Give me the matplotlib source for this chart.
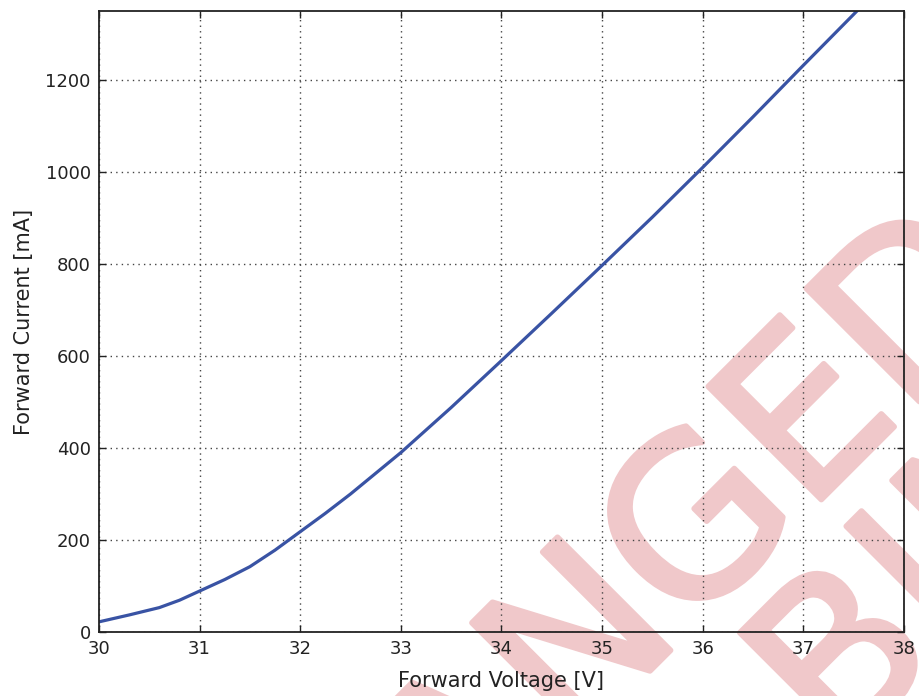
import matplotlib
matplotlib.use("Agg")
import matplotlib.pyplot as plt
import matplotlib.patheffects as pe

# forward voltage [V] vs forward current [mA]
voltage = [30.0, 30.3, 30.6, 30.8, 31.0, 31.25, 31.5, 31.75, 32.0, 32.25,
           32.5, 33.0, 33.5, 34.0, 34.5, 35.0, 35.5, 36.0, 36.5, 37.0, 37.6]
current = [22, 37, 53, 69, 89, 114, 142, 178, 218, 258,
           300, 390, 488, 590, 693, 797, 902, 1010, 1120, 1232, 1365]

xticks = [30, 31, 32, 33, 34, 35, 36, 37, 38]
yticks = [0, 200, 400, 600, 800, 1000, 1200]

fig = plt.figure(figsize=(9.19, 6.96), dpi=100)
ax = fig.add_axes([0.1077, 0.092, 0.876, 0.8922])
ax.patch.set_alpha(0)

ax.plot(voltage, current, color="#3953a4", lw=2.3)

ax.set_xlim(30, 38)
ax.set_ylim(0, 1350)
ax.set_xticks(xticks)
ax.set_yticks(yticks)
ax.grid(True, color="#444444", lw=1, dashes=(1, 3))
ax.tick_params(direction="in", length=5, width=1, top=True, right=True,
               labelsize=13, colors="#222222", pad=6)
for s in ax.spines.values():
    s.set_linewidth(1.3)
    s.set_color("#222222")

ax.set_xlabel("Forward Voltage [V]", fontsize=15, color="#222222", labelpad=9)
ax.set_ylabel("Forward Current [mA]", fontsize=15, color="#222222", labelpad=8)

# watermark, behind the axes
pink = "#f0c8ca"
wm = dict(fontsize=158, color=pink, rotation=45, rotation_mode="anchor",
          va="baseline", zorder=-1,
          path_effects=[pe.withStroke(linewidth=4, foreground=pink)])
fig.text(1.114, 0.573, "CHANGED", ha="right", **wm)
fig.text(0.9115, -0.0935, "BIN", ha="left", **wm)

fig.savefig("out.png", dpi=100)
